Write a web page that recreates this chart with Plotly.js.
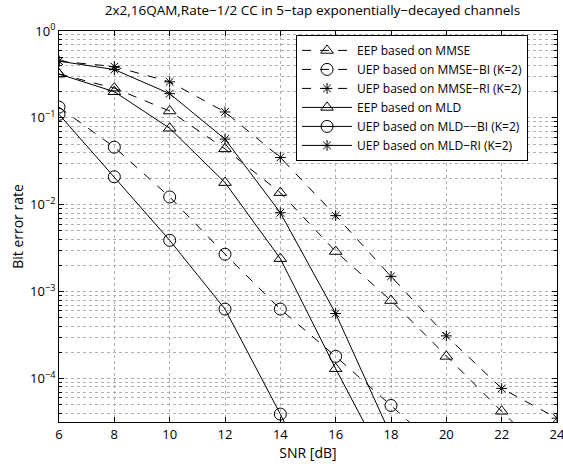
<!DOCTYPE html>
<html><head><meta charset="utf-8">
<script src="https://cdn.plot.ly/plotly-3.0.1.min.js"></script>
<style>html,body{margin:0;padding:0;background:#fff}#c{width:563px;height:464px}</style>
</head><body><div id="c"></div>
<script>
const snr = [6, 8, 10, 12, 14, 16, 18, 20, 22, 24];
const eepMMSE   = [0.32, 0.22, 0.12, 0.044, 0.0138, 0.0029, 7.9e-4, 1.8e-4, 4.2e-5, 1.0e-5];
const uepMMSEBI = [0.133, 0.046, 0.0123, 0.0027, 6.3e-4, 1.8e-4, 4.9e-5, 1.3e-5];
const uepMMSERI = [0.45, 0.39, 0.26, 0.117, 0.035, 0.0075, 0.0015, 3.1e-4, 7.7e-5, 3.5e-5];
const eepMLD    = [0.32, 0.2, 0.076, 0.018, 0.0024, 1.3e-4, 8e-6];
const uepMLDBI  = [0.11, 0.021, 0.0039, 6.3e-4, 3.9e-5, 2e-6];
const uepMLDRI  = [0.45, 0.36, 0.19, 0.057, 0.0081, 5.6e-4, 2.2e-5];
const names = ['EEP based on MMSE','UEP based on MMSE\u2212BI (K=2)','UEP based on MMSE\u2212RI (K=2)',
               'EEP based on MLD','UEP based on MLD\u2212\u2212BI (K=2)','UEP based on MLD\u2212RI (K=2)'];
const xTicks = [6, 8, 10, 12, 14, 16, 18, 20, 22, 24];
const yTickVals = [1, 0.1, 0.01, 0.001, 0.0001];
const yTickText = ['10<sup>0</sup>','10<sup>\u22121</sup>','10<sup>\u22122</sup>','10<sup>\u22123</sup>','10<sup>\u22124</sup>'];

const series = [eepMMSE, uepMMSEBI, uepMMSERI, eepMLD, uepMLDBI, uepMLDRI];
const symbols = ['triangle-up-open','circle-open','asterisk-open','triangle-up-open','circle-open','asterisk-open'];
const sizes = [11, 12, 9, 11, 12, 9];
const dashes = ['dash','dash','dash','solid','solid','solid'];
const traces = series.map((ys, i) => ({
  x: snr.slice(0, ys.length), y: ys, name: names[i], type: 'scatter', mode: 'lines+markers',
  line: {color: '#000', width: 1, dash: dashes[i]},
  marker: {symbol: symbols[i], size: sizes[i], color: '#000', line: {color: '#000', width: 1}}
}));

const font = {family: '"Open Sans", "Liberation Sans", sans-serif', color: '#000', size: 12};
const gridc = '#b0b0b0';
const layout = {
  width: 563, height: 464,
  margin: {l: 59, r: 6, t: 31, b: 42},
  paper_bgcolor: '#fff', plot_bgcolor: '#fff',
  font: font,
  title: {text: '2x2,16QAM,Rate\u22121/2 CC in 5\u2212tap exponentially\u2212decayed channels',
          x: 0.555, xanchor: 'center', y: 0.987, yanchor: 'top', font: {size: 13.5, family: font.family}},
  showlegend: true,
  legend: {x: 0.476, y: 0.99, xanchor: 'left', yanchor: 'top', bgcolor: '#fff',
           bordercolor: '#000', borderwidth: 1, font: {size: 12}, tracegroupgap: 0, itemwidth: 50},
  xaxis: {range: [6, 24], tickvals: xTicks, ticks: 'inside', ticklen: 5, tickcolor: '#000',
          ticklabeloverflow: 'allow',
          showline: true, linecolor: '#000', linewidth: 1, mirror: 'ticks', zeroline: false,
          showgrid: true, gridcolor: gridc, griddash: 'dot', gridwidth: 1,
          tickfont: {size: 13}, title: {text: 'SNR [dB]', font: {size: 14}, standoff: 5}},
  yaxis: {type: 'log', range: [-4.5, 0], tickvals: yTickVals, ticktext: yTickText,
          ticks: 'inside', ticklen: 5, tickcolor: '#000',
          showline: true, linecolor: '#000', linewidth: 1, mirror: 'ticks', zeroline: false,
          showgrid: true, gridcolor: gridc, griddash: 'dot', gridwidth: 1,
          minor: {dtick: 'D1', showgrid: true, gridcolor: gridc, griddash: 'dot', ticks: 'inside', ticklen: 3, tickcolor: '#000'},
          tickfont: {size: 13}, title: {text: 'Bit error rate', font: {size: 14}, standoff: 3}}
};
Plotly.newPlot('c', traces, layout, {displayModeBar: false, staticPlot: true});
</script></body></html>
